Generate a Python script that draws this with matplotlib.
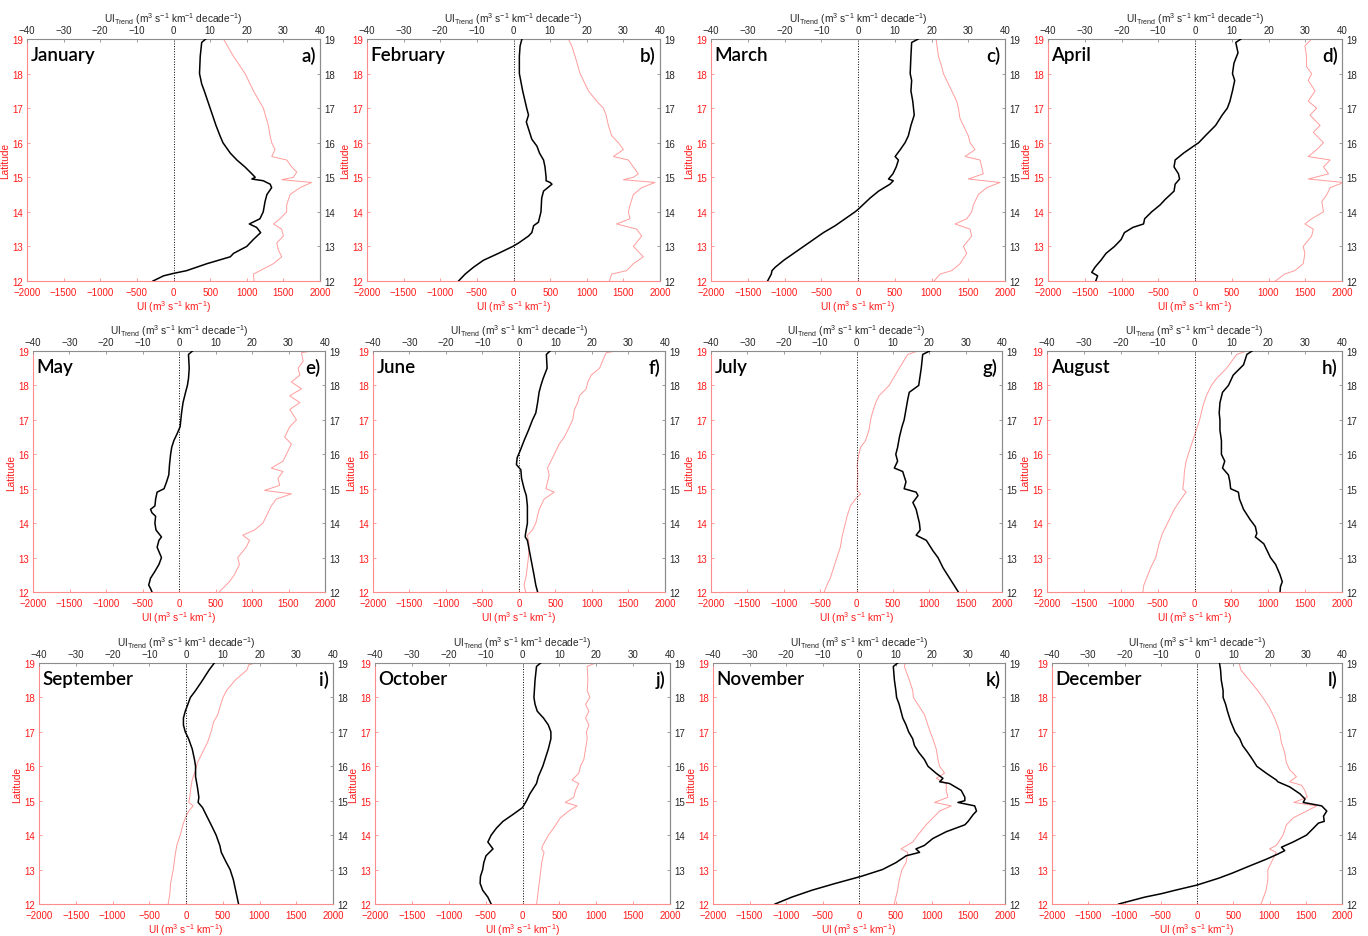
import matplotlib
matplotlib.use("Agg")
import matplotlib.pyplot as plt

plt.rcParams.update({
    "font.family": ["Liberation Sans", "DejaVu Sans"],
    "mathtext.fontset": "custom",
    "mathtext.rm": "Liberation Sans",
    "mathtext.it": "Liberation Sans",
    "mathtext.default": "regular",
    "font.size": 7,
})

MONTHS = ["January", "February", "March", "April", "May", "June",
          "July", "August", "September", "October", "November", "December"]
LETTERS = ["a)", "b)", "c)", "d)", "e)", "f)", "g)", "h)", "i)", "j)", "k)", "l)"]

# black line: UI trend (top axis, m3 s-1 km-1 decade-1)
# red line: UI (bottom axis, m3 s-1 km-1)
JAN_T_LAT = [19, 18.9, 18.5, 18, 17.7, 17.5, 17, 16.5, 16.2, 16, 15.7, 15.6, 15.5, 15.3, 15.1, 15.0, 14.95,
             14.9, 14.8, 14.7, 14.5, 14.3, 14.0, 13.8, 13.65, 13.55, 13.4, 13.2, 13.0, 12.8, 12.7, 12.5,
             12.3, 12.22, 12.15, 12.0]
JAN_T = [8.8, 7.7, 7.3, 7.1, 7.7, 8.4, 10, 11.6, 12.7, 13.5, 15.5, 16.4, 17.3, 19.5, 21.4, 22.3, 21.4,
         24.5, 26.4, 26.8, 25.5, 25, 24.5, 23.6, 20.7, 22.7, 23.8, 21.8, 20, 16.4, 15.5, 9.1,
         3.6, 0, -2.7, -5.6]
JAN_U_LAT = [19, 18.5, 18, 17.5, 17, 16.5, 16.2, 16, 15.8, 15.6, 15.5, 15.3, 15.15, 15.0, 14.93, 14.85,
             14.7, 14.5, 14.2, 14.0, 13.8, 13.65, 13.5, 13.3, 13.1, 12.9, 12.7, 12.5, 12.3, 12.2, 12.0]
JAN_U = [682, 818, 977, 1091, 1227, 1295, 1318, 1341, 1386, 1341, 1545, 1614, 1682, 1636, 1477, 1886,
         1727, 1591, 1545, 1545, 1454, 1364, 1477, 1500, 1409, 1432, 1477, 1364, 1182, 1091, 1100]

FEB_T_LAT = [19, 18.8, 18.5, 18, 17.5, 17, 16.8, 16.6, 16.4, 16.1, 15.9, 15.7, 15.5, 15.3, 15.0, 14.9,
             14.85, 14.8, 14.6, 14.4, 14.0, 13.7, 13.6, 13.4, 13.3, 13.1, 13.0, 12.8, 12.6, 12.4, 12.2, 12.0]
FEB_T = [2.3, 1.8, 1.6, 1.6, 2.5, 3.6, 4.1, 3.5, 4.1, 5, 6.4, 7.1, 8.2, 8.6, 8.9, 8.9,
         10, 10.5, 8.2, 7.7, 7.5, 6.8, 5.5, 5, 4.1, 1.4, -0.2, -4.1, -8.2, -10.9, -13.2, -15]
FEB_U_LAT = [19, 18.8, 18.5, 18, 17.5, 17.2, 17, 16.8, 16.5, 16.2, 16, 15.8, 15.6, 15.5, 15.3, 15.1,
             15.0, 14.93, 14.85, 14.7, 14.5, 14.2, 14.0, 13.8, 13.65, 13.5, 13.3, 13.0, 12.8, 12.7,
             12.5, 12.3, 12.2, 12.0]
FEB_U = [750, 795, 841, 909, 1023, 1136, 1227, 1264, 1295, 1341, 1432, 1500, 1364, 1568, 1636, 1705,
         1636, 1500, 1932, 1750, 1636, 1591, 1568, 1591, 1409, 1682, 1750, 1636, 1727, 1773,
         1636, 1545, 1341, 1309]

MAR_T_LAT = [19, 18.9, 18.5, 18, 17.8, 17.5, 17.2, 17.0, 16.8, 16.5, 16.2, 16.0, 15.8, 15.6, 15.5, 15.3,
             15.1, 14.95, 14.9, 14.8, 14.6, 14.4, 14.2, 14.07, 14.0, 13.8, 13.6, 13.4, 13.2, 13.0, 12.8,
             12.6, 12.4, 12.3, 12.2, 12.0]
MAR_T = [16.4, 14.6, 14.4, 14.2, 14.6, 14.4, 14.9, 15.1, 15.3, 14.4, 13.7, 12.8, 11.5, 10.1, 11, 10.4,
         9.5, 8.3, 9.6, 8.7, 5.6, 3.3, 1.3, 0, -0.8, -3.5, -6.2, -9.4, -12.1, -14.8, -17.5,
         -20.2, -22.5, -23.4, -23.6, -24.6]
MAR_U_LAT = [19, 18.5, 18.2, 18.0, 17.8, 17.5, 17.2, 17.0, 16.7, 16.5, 16.2, 16.0, 15.8, 15.6, 15.5,
             15.3, 15.1, 14.95, 14.85, 14.7, 14.5, 14.2, 14.0, 13.8, 13.65, 13.5, 13.3, 13.0, 12.8,
             12.5, 12.3, 12.2, 12.0]
MAR_U = [1062, 1094, 1139, 1162, 1207, 1275, 1343, 1366, 1388, 1434, 1501, 1524, 1592, 1456, 1660,
         1683, 1705, 1501, 1932, 1751, 1637, 1569, 1547, 1479, 1320, 1524, 1547, 1434, 1479,
         1388, 1275, 1116, 1035]

APR_T_LAT = [19, 18.9, 18.6, 18.3, 18.0, 17.8, 17.5, 17.2, 17.0, 16.8, 16.5, 16.2, 16.0, 15.9, 15.7,
             15.5, 15.3, 15.1, 14.95, 14.8, 14.6, 14.4, 14.35, 14.2, 14.0, 13.8, 13.65, 13.55, 13.4,
             13.2, 13.0, 12.8, 12.6, 12.4, 12.25, 12.15, 12.0]
APR_T = [12.5, 11.1, 11.7, 10.6, 10.2, 10.8, 10.2, 9.5, 8.8, 7.4, 5.6, 2.8, 1, -0.4, -3.1,
         -5.4, -5.7, -4.5, -4.2, -5.4, -5.7, -7.7, -8.2, -9.5, -11.8, -13.7, -14, -16.9, -19.2,
         -20.1, -21.9, -24.2, -25.6, -27.2, -28.1, -26.5, -27]
APR_U_LAT = [19, 18.8, 18.5, 18.2, 18.0, 17.8, 17.5, 17.2, 17.0, 16.8, 16.5, 16.3, 16.0, 15.8, 15.6,
             15.5, 15.3, 15.1, 14.95, 14.85, 14.7, 14.5, 14.3, 14.0, 13.8, 13.65, 13.5, 13.3, 13.0,
             12.8, 12.5, 12.3, 12.2, 12.0]
APR_U = [1587, 1495, 1518, 1518, 1587, 1541, 1633, 1541, 1656, 1564, 1702, 1610, 1748, 1656, 1541,
         1839, 1748, 1817, 1541, 2023, 1839, 1794, 1725, 1748, 1587, 1495, 1610, 1587, 1472,
         1495, 1472, 1358, 1220, 1092]

MAY_T_LAT = [19, 18.9, 18.5, 18.2, 18.0, 17.8, 17.5, 17.2, 17.0, 16.8, 16.6, 16.4, 16.2, 16.0, 15.7,
             15.4, 15.2, 15.0, 14.9, 14.7, 14.5, 14.4, 14.3, 14.2, 14.0, 13.8, 13.6, 13.5, 13.3, 13.0,
             12.8, 12.6, 12.4, 12.2, 12.1, 12.0]
MAY_T = [3.7, 2.6, 2.8, 2.6, 2.3, 1.8, 1.1, 0.7, 0.5, 0.3, -0.5, -1.4, -2, -2.3, -2.6,
         -2.8, -3.4, -4.1, -6, -6.4, -6.6, -7.8, -7.4, -6.4, -6.6, -6.3, -4.8, -5.5, -6, -4.8,
         -5.5, -6.6, -7.8, -8.3, -7.8, -7.4]
MAY_U_LAT = [19, 18.95, 18.7, 18.5, 18.3, 18.1, 17.9, 17.7, 17.5, 17.3, 17.0, 16.8, 16.5, 16.3, 16.0,
             15.8, 15.6, 15.5, 15.3, 15.1, 14.95, 14.85, 14.7, 14.5, 14.2, 14.0, 13.8, 13.65, 13.5,
             13.3, 13.0, 12.8, 12.5, 12.3, 12.1, 12.0]
MAY_U = [1816, 1678, 1701, 1632, 1655, 1540, 1678, 1517, 1655, 1517, 1609, 1517, 1448, 1540, 1471,
         1425, 1264, 1425, 1356, 1379, 1172, 1540, 1333, 1264, 1195, 1149, 1034, 874, 966,
         920, 805, 828, 759, 690, 598, 552]

JUN_T_LAT = [19, 18.9, 18.5, 18.2, 18.0, 17.8, 17.5, 17.2, 17.0, 16.7, 16.4, 16.1, 15.9, 15.7, 15.55,
             15.3, 15.0, 14.8, 14.5, 14.0, 13.7, 13.6, 13.5, 13.0, 12.5, 12.2, 12.0]
JUN_T = [8.5, 7.5, 7.7, 6.6, 6, 5.5, 5.1, 4.6, 3.7, 2.6, 1.4, 0.3, -0.5, -0.7, 0.5,
         0.7, 1.4, 2, 2.3, 2.3, 1.8, 1.7, 2.3, 3.2, 4.1, 4.6, 5.1]
JUN_U_LAT = [19, 18.95, 18.8, 18.5, 18.3, 18.1, 17.9, 17.7, 17.5, 17.3, 17.0, 16.8, 16.5, 16.3, 16.0,
             15.8, 15.6, 15.4, 15.2, 15.0, 14.9, 14.7, 14.4, 14.0, 13.8, 13.65, 13.4, 13.0, 12.5,
             12.2, 12.0]
JUN_U = [1333, 1195, 1163, 1103, 989, 943, 920, 828, 805, 759, 736, 690, 621, 552, 483,
         437, 391, 414, 391, 368, 483, 345, 276, 230, 184, 115, 138, 129, 101, 69, 92]

JUL_T_LAT = [19, 18.9, 18.5, 18.0, 17.8, 17.6, 17.3, 17.0, 16.8, 16.5, 16.2, 16.0, 15.8, 15.6, 15.5,
             15.2, 15.0, 14.9, 14.8, 14.6, 14.4, 14.0, 13.8, 13.65, 13.5, 13.2, 13.0, 12.7, 12.4,
             12.2, 12.0]
JUL_T = [20.1, 18.2, 17.8, 17.1, 14.5, 14.1, 13.6, 13.1, 12.5, 11.8, 11.3, 10.8, 11.3, 10.4, 12.7,
         13.6, 13.1, 16.4, 16.9, 15.5, 16.4, 17.3, 17.5, 16.4, 19.2, 21, 22.4, 23.8, 25.6, 26.8, 28]
JUL_U_LAT = [19, 18.9, 18.5, 18.0, 17.7, 17.5, 17.2, 17.0, 16.7, 16.4, 16.2, 16.0, 15.7, 15.4, 15.1,
             14.95, 14.85, 14.7, 14.5, 14.2, 14.0, 13.8, 13.6, 13.3, 13.0, 12.7, 12.4, 12.2, 12.0]
JUL_U = [843, 704, 588, 449, 310, 264, 218, 194, 171, 125, 56, 32, 9, 19, 9,
         9, 56, -14, -83, -130, -153, -176, -199, -222, -269, -315, -361, -407, -444]

AUG_T_LAT = [19, 18.9, 18.6, 18.3, 18.0, 17.8, 17.5, 17.2, 17.0, 16.7, 16.4, 16.0, 15.8, 15.6, 15.4,
             15.2, 15.0, 14.9, 14.7, 14.4, 14.1, 13.9, 13.7, 13.6, 13.4, 13.0, 12.8, 12.5, 12.3,
             12.15, 12.0]
AUG_T = [15.6, 14.2, 13.3, 10.5, 9.2, 7.6, 6.9, 6.7, 6.9, 6.9, 7.3, 7.3, 8.2, 7.6, 9.2,
         9.6, 9.8, 11.9, 12.2, 13.3, 15.1, 16.5, 16.9, 16.5, 18.8, 20.6, 22, 23.2, 23.8, 23.3, 23.2]
AUG_U_LAT = [19, 18.9, 18.5, 18.2, 18.0, 17.7, 17.4, 17.0, 16.7, 16.4, 16.1, 15.8, 15.5, 15.2, 15.0,
             14.9, 14.7, 14.4, 14.0, 13.7, 13.4, 13.0, 12.7, 12.4, 12.2, 12.0]
AUG_U = [709, 572, 435, 298, 229, 160, 114, 69, 23, -23, -69, -114, -137, -146, -160,
         -114, -183, -275, -366, -435, -481, -526, -595, -650, -687, -700]

SEP_T_LAT = [19, 18.8, 18.5, 18.2, 18.0, 17.8, 17.6, 17.4, 17.2, 17.0, 16.8, 16.5, 16.2, 16.0, 15.7,
             15.4, 15.1, 14.95, 14.8, 14.5, 14.2, 14.0, 13.7, 13.5, 13.2, 13.0, 12.7, 12.4, 12.0]
SEP_T = [7.7, 6.3, 4.5, 2.6, 1.2, 0.5, -0.2, -0.7, -0.7, -0.2, 0.7, 1.7, 2.3, 2.6, 2.6,
         3.1, 3.5, 3.3, 4.5, 5.9, 7.3, 8.2, 9.2, 9.6, 11, 12, 12.9, 13.5, 14.3]
SEP_U_LAT = [19, 18.95, 18.8, 18.5, 18.2, 18.0, 17.7, 17.5, 17.3, 17.0, 16.7, 16.4, 16.1, 15.9, 15.6,
             15.3, 15.1, 14.95, 14.85, 14.7, 14.5, 14.3, 14.0, 13.7, 13.4, 13.0, 12.6, 12.3, 12.0]
SEP_U = [948, 854, 831, 668, 551, 504, 458, 434, 378, 341, 294, 224, 154, 131, 84,
         61, 51, 37, 98, 37, -9, -42, -79, -126, -149, -173, -210, -219, -243]

OCT_T_LAT = [19, 18.9, 18.5, 18.0, 17.8, 17.6, 17.4, 17.2, 17.0, 16.8, 16.5, 16.2, 16.0, 15.7, 15.5,
             15.2, 15.0, 14.8, 14.6, 14.4, 14.2, 14.0, 13.8, 13.6, 13.55, 13.4, 13.2, 13.0, 12.8,
             12.6, 12.4, 12.2, 12.0]
OCT_T = [4.9, 3.8, 3.4, 3.1, 3.4, 4, 5.7, 7, 7.7, 7.7, 7, 6.1, 5.5, 4.3, 3.8,
         2, 1.1, 0, -2.6, -5.3, -7.1, -8.5, -9.4, -8, -8.5, -9.9, -10.5, -10.8, -11.4,
         -11.5, -10.8, -9.4, -8.5]
OCT_U_LAT = [19, 18.9, 18.5, 18.2, 18.0, 17.8, 17.6, 17.4, 17.2, 17.0, 16.8, 16.5, 16.2, 16.0, 15.8,
             15.6, 15.5, 15.3, 15.1, 14.95, 14.85, 14.7, 14.5, 14.2, 14.0, 13.7, 13.6, 13.5, 13.2,
             12.8, 12.4, 12.0]
OCT_U = [992, 877, 887, 877, 914, 855, 900, 855, 900, 868, 877, 855, 832, 786, 763,
         672, 763, 718, 695, 580, 740, 626, 512, 420, 352, 274, 260, 292, 260, 238, 215, 192]

NOV_T_LAT = [19, 18.9, 18.5, 18.2, 18.0, 17.8, 17.6, 17.4, 17.2, 17.0, 16.8, 16.6, 16.4, 16.2, 16.0,
             15.8, 15.65, 15.55, 15.5, 15.3, 15.1, 15.0, 14.95, 14.85, 14.7, 14.6, 14.4, 14.3, 14.1,
             13.9, 13.7, 13.6, 13.5, 13.4, 13.2, 13.0, 12.8, 12.6, 12.4, 12.2, 12.0]
NOV_T = [10.6, 9.4, 9.7, 10.1, 10.3, 11, 11.5, 12, 12.9, 13.6, 14.7, 15.2, 16.4, 17.9, 18.9,
         21.1, 23, 22.1, 24.8, 28, 29, 29, 27.1, 31.7, 32.2, 31.3, 29.9, 29, 23.9,
         20.2, 17.9, 15.6, 16.6, 12.9, 10.1, 6.4, 0.5, -6.4, -12.9, -18.4, -23]
NOV_U_LAT = [19, 18.9, 18.5, 18.2, 18.0, 17.8, 17.5, 17.2, 17.0, 16.8, 16.5, 16.2, 16.0, 15.8, 15.65,
             15.5, 15.3, 15.1, 14.95, 14.85, 14.7, 14.5, 14.3, 14.0, 13.8, 13.6, 13.5, 13.2, 13.0,
             12.7, 12.4, 12.0]
NOV_U = [635, 621, 690, 736, 745, 805, 897, 943, 975, 1012, 1058, 1081, 1104, 1172, 1058,
         1195, 1195, 1218, 1034, 1264, 1104, 1012, 920, 805, 736, 575, 667, 644, 589, 552, 529, 483]

DEC_T_LAT = [19, 18.8, 18.5, 18.2, 18.0, 17.8, 17.6, 17.3, 17.0, 16.8, 16.6, 16.4, 16.2, 16.0, 15.8,
             15.6, 15.55, 15.4, 15.2, 15.05, 14.95, 14.85, 14.7, 14.55, 14.4, 14.35, 14.2, 14.0, 13.8,
             13.65, 13.55, 13.45, 13.3, 13.1, 12.9, 12.75, 12.55, 12.4, 12.3, 12.2, 12.0]
DEC_T = [6.2, 6.5, 6.7, 7.2, 7.2, 7.9, 8.4, 9.3, 10.5, 11.8, 12.6, 14, 15.3, 16.5, 19.1,
         21.9, 22.3, 25.6, 28.4, 29.8, 29.3, 34.4, 35.8, 34.9, 35.1, 33.5, 32.1, 30.2, 26.5,
         23.3, 24.2, 22.3, 19.1, 14.4, 9.8, 6, 0, -6, -9.8, -14.4, -21.6]
DEC_U_LAT = [19, 18.8, 18.5, 18.2, 18.0, 17.7, 17.4, 17.0, 16.7, 16.4, 16.1, 15.9, 15.7, 15.55, 15.45,
             15.3, 15.1, 14.95, 14.85, 14.7, 14.5, 14.3, 14.0, 13.7, 13.6, 13.5, 13.3, 13.0, 12.7,
             12.4, 12.0]
DEC_U = [581, 605, 721, 837, 907, 1000, 1070, 1140, 1163, 1209, 1233, 1279, 1372, 1279, 1442,
         1488, 1521, 1335, 1651, 1512, 1326, 1233, 1186, 1093, 1000, 1093, 1046, 977, 977, 953, 884]

TREND = [(JAN_T_LAT, JAN_T), (FEB_T_LAT, FEB_T), (MAR_T_LAT, MAR_T), (APR_T_LAT, APR_T),
         (MAY_T_LAT, MAY_T), (JUN_T_LAT, JUN_T), (JUL_T_LAT, JUL_T), (AUG_T_LAT, AUG_T),
         (SEP_T_LAT, SEP_T), (OCT_T_LAT, OCT_T), (NOV_T_LAT, NOV_T), (DEC_T_LAT, DEC_T)]
UI = [(JAN_U_LAT, JAN_U), (FEB_U_LAT, FEB_U), (MAR_U_LAT, MAR_U), (APR_U_LAT, APR_U),
      (MAY_U_LAT, MAY_U), (JUN_U_LAT, JUN_U), (JUL_U_LAT, JUL_U), (AUG_U_LAT, AUG_U),
      (SEP_U_LAT, SEP_U), (OCT_U_LAT, OCT_U), (NOV_U_LAT, NOV_U), (DEC_U_LAT, DEC_U)]

W, H = 1368, 937
# panel boxes in pixels: (left, right) per row / column, (top, bottom) per row
COL_X = [[(27, 320), (367, 660), (711, 1005), (1048, 1342)],
         [(33, 325), (373, 665), (711, 1002), (1047, 1342)],
         [(39, 333), (375, 670), (713, 1005), (1052, 1342)]]
ROW_Y = [(40, 282), (352, 593), (664, 905)]

RED = "#ff1a1a"
RED_SPINE = "#ff8c8c"
RED_LINE = "#ff9c9c"
GRAY_SPINE = "#8c8c8c"
DARK = "#262626"

fig = plt.figure(figsize=(W / 100, H / 100), dpi=100)

for i in range(12):
    r, c = divmod(i, 4)
    x0, x1 = COL_X[r][c]
    y0, y1 = ROW_Y[r]
    ax = fig.add_axes([x0 / W, 1 - y1 / H, (x1 - x0) / W, (y1 - y0) / H])

    lat_u, ui = UI[i]
    lat_t, tr = TREND[i]

    ax.plot(ui, lat_u, color=RED_LINE, lw=0.7)
    ax.axvline(0, color="k", ls=":", lw=0.7)
    ax.set_xlim(-2000, 2000)
    ax.set_ylim(12, 19)
    ax.set_xticks(range(-2000, 2001, 500))
    ax.set_yticks(range(12, 20))
    ax.tick_params(axis="both", direction="in", colors=RED_SPINE, labelcolor=RED,
                   labelsize=7, length=2.5, width=0.6)
    ax.tick_params(axis="x", pad=4.5)
    ax.tick_params(axis="y", pad=3)
    ax.set_xlabel("UI (m$^{3}$ s$^{-1}$ km$^{-1}$)", color=RED, fontsize=7.3, labelpad=1)
    ax.set_ylabel("Latitude", color=RED, fontsize=7.3, labelpad=1)
    for s in ["left", "bottom"]:
        ax.spines[s].set_color(RED_SPINE)
        ax.spines[s].set_linewidth(0.8)
    for s in ["top", "right"]:
        ax.spines[s].set_color(GRAY_SPINE)
        ax.spines[s].set_linewidth(0.8)

    ax2 = ax.twiny()
    ax2.plot(tr, lat_t, color="k", lw=1.1)
    ax2.set_xlim(-40, 40)
    ax2.set_xticks(range(-40, 41, 10))
    ax2.tick_params(axis="x", direction="in", colors=GRAY_SPINE, labelcolor=DARK,
                    labelsize=7, length=2.5, width=0.6, pad=3)
    ax2.set_xlabel(r"UI$_{\mathrm{Trend}}$ (m$^{3}$ s$^{-1}$ km$^{-1}$ decade$^{-1}$)",
                   color=DARK, fontsize=7.3, labelpad=2)
    for s in ax2.spines.values():
        s.set_visible(False)

    sec = ax.secondary_yaxis("right")
    sec.set_yticks(range(12, 20))
    sec.tick_params(direction="in", colors=GRAY_SPINE, labelcolor=DARK,
                    labelsize=7, length=2.5, width=0.6, pad=3)
    sec.spines["right"].set_color(GRAY_SPINE)
    sec.spines["right"].set_linewidth(0.8)

    ax.text(0.012, 0.97, MONTHS[i], transform=ax.transAxes, ha="left", va="top",
            fontsize=13.5, family=["Lato", "DejaVu Sans"], fontweight="semibold", color="k")
    ax.text(0.985, 0.97, LETTERS[i], transform=ax.transAxes, ha="right", va="top",
            fontsize=13.5, family=["Lato", "DejaVu Sans"], fontweight="semibold", color="k")

fig.savefig("out.png", dpi=100, facecolor="white")
